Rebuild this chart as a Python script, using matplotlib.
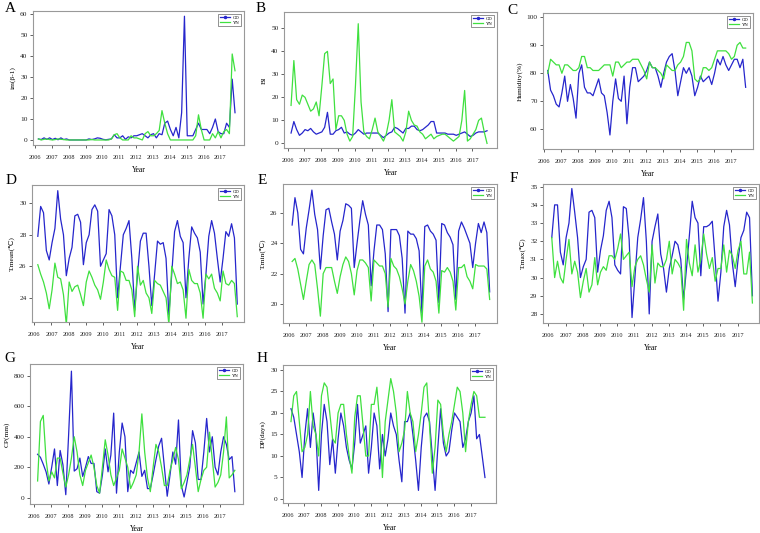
import numpy as np
import matplotlib.pyplot as plt

plt.rcParams['font.family'] = ['Liberation Serif', 'DejaVu Serif']
plt.rcParams['axes.unicode_minus'] = False

# time axis: first sample 2006.2, 6 samples per year, last 2017.87
n_pts = 71
t = 2006.2 + np.arange(n_pts) / 6.0
years = list(range(2006, 2018))

# ---- A: im(β-1) ----
im_gd = [0.5, 0.2, 1.0, 0.3, 1.0,
         0.2, 0.8, 0.1, 1.0, 0.2, 0.5,
         0, 0, 0, 0, 0, 0,
         0, 0.5, 0.2, 0.5, 1.0, 0.8,
         0.3, 0.1, 0.3, 0.5, 2.5, 1.0,
         1.0, 2.0, 0.3, 1.5, 1.0, 2.0,
         2.0, 2.5, 3.0, 2.0, 1.0, 2.5,
         3.0, 1.0, 3.0, 2.5, 8.0, 9.0,
         5.0, 2.0, 6.0, 1.0, 13.0, 59.0,
         2.0, 2.0, 2.0, 5.0, 8.0, 5.0,
         5.0, 5.0, 3.0, 6.0, 10.0, 4.0,
         3.0, 3.0, 8.0, 6.0, 29.0, 13.0]
im_yn = [0.5, 0, 0.3, 0.5, 0.2,
         0, 0.2, 0.5, 0.3, 0.2, 0,
         0, 0, 0, 0, 0, 0,
         0, 0, 0.2, 0, 0, 0,
         0, 0, 0, 0.5, 2.5, 3.0,
         1.0, 0, 0, 0, 2.0, 1.0,
         1.0, 0.5, 0, 3.0, 4.0, 2.0,
         2.0, 3.0, 4.5, 14.0, 8.0, 3.0,
         0, 0, 0, 0, 0, 0,
         0, 0, 0, 2.0, 12.0, 5.0,
         0, 0, 0, 3.0, 1.0, 4.0,
         1.0, 4.0, 5.0, 3.0, 41.0, 33.0]

# ---- B: BI ----
bi_gd = [4.5, 9.5, 6, 3.5, 4.5,
         6, 5.5, 6.5, 5, 4, 4.5,
         5, 7, 13.5, 4, 4, 5.5,
         6, 7, 4.5, 5, 4, 3.5,
         4.5, 6, 5, 4, 4.5, 4.5,
         4.5, 4.5, 4.5, 3.5, 2.5, 3.5,
         4.5, 5, 7, 6.5, 5.5, 4.5,
         6.5, 6.5, 7.5, 7.5, 6, 5.5,
         6, 7, 8, 9.5, 9.5, 4.5,
         4.5, 4.5, 4.5, 4, 4, 4,
         3.5, 4, 4.5, 5, 4, 3,
         3.5, 4.5, 5, 5, 5, 5.5]
bi_yn = [16.5, 36, 19, 17, 21,
         20, 17, 14, 15, 18, 12,
         25, 39, 40, 26, 28, 6,
         12, 12, 10, 4, 1, 3,
         25, 52, 18, 5, 3, 2,
         6, 11, 5, 3, 1, 4,
         10, 19, 5, 4, 3, 1,
         5, 14, 10, 8, 7.5, 5,
         4, 2, 3, 4, 2, 3,
         3.5, 4, 4, 3, 2, 1,
         2, 3, 10, 23, 1, 2,
         4, 6, 10, 11, 5, 0]

# ---- C: Humidity ----
hum_gd = [81, 74, 72, 69, 68,
          73, 79, 70, 76, 71, 64,
          80, 83, 75, 73, 73, 72,
          75, 78, 73, 72, 66, 58,
          70, 78, 71, 70, 79, 62,
          75, 82, 82, 77, 78, 79,
          81, 84, 82, 82, 79, 75,
          80, 84, 86, 87, 81, 72,
          77, 82, 80, 82, 79, 72,
          75, 79, 77, 78, 79, 76,
          80, 85, 83, 86, 83, 81,
          83, 85, 85, 82, 85, 75]
hum_yn = [80, 85, 84, 83, 83,
          80, 83, 83, 82, 81, 81,
          82, 86, 86, 82, 82, 81,
          81, 81, 82, 83, 83, 83,
          79, 84, 84, 82, 83, 84,
          84, 85, 85, 85, 83, 81,
          78, 84, 82, 82, 81, 80,
          78, 83, 82, 81, 81, 83,
          84, 86, 91, 91, 88, 78,
          77, 78, 82, 82, 81, 82,
          85, 88, 88, 88, 88, 87,
          85, 86, 90, 91, 89, 89]

# ---- D: T.mean ----
tmean_gd = [27.9, 29.8, 29.4, 27.0, 26.4,
            27.5, 28.4, 30.8, 29.0, 28.0, 25.4,
            26.5, 27.2, 29.2, 29.3, 28.8, 26.1,
            27.5, 28.0, 29.6, 29.9, 29.5, 26.0,
            26.4, 26.8, 29.6, 29.2, 28.0, 24.0,
            26.0, 28.0, 28.4, 28.9, 26.5, 23.2,
            25.5, 27.6, 28.1, 28.1, 26.0, 23.5,
            25.5, 27.6, 27.4, 27.5, 26.5, 22.9,
            25.5, 28.2, 28.9, 27.9, 27.5, 24.0,
            26.5, 28.5, 28.1, 27.8, 26.9, 23.6,
            25.5, 27.9, 28.9, 28.1, 26.5, 25.0,
            26.5, 28.2, 27.9, 28.7, 27.8, 23.6]
tmean_yn = [26.1, 25.5, 25.0, 24.3, 23.3,
            24.5, 26.2, 25.3, 25.2, 24.2, 22.3,
            25.0, 24.4, 24.7, 24.8, 24.2, 23.5,
            25.0, 25.7, 25.3, 24.8, 24.5, 23.9,
            25.0, 26.4, 25.8, 25.4, 25.3, 23.2,
            25.7, 25.6, 25.1, 25.1, 24.5, 22.8,
            26.0, 24.8, 25.1, 24.3, 24.0, 23.0,
            25.1, 24.9, 24.8, 24.4, 24.0, 22.3,
            26.0, 25.5, 24.9, 25.0, 24.5, 22.7,
            25.8, 25.1, 24.9, 24.9, 24.3, 22.7,
            25.5, 25.2, 25.5, 24.6, 24.3, 23.8,
            25.7, 24.9, 24.8, 25.1, 24.9, 22.8]

# ---- E: T.min ----
tmin_gd = [25.2, 27.0, 26.0, 23.6, 23.3,
           25.0, 26.2, 27.5, 25.9, 24.9, 22.3,
           24.5, 26.2, 26.3, 25.4, 24.6, 22.9,
           24.8, 25.5, 26.6, 26.5, 26.3, 22.4,
           24.0, 25.5, 26.8, 25.9, 25.2, 21.2,
           23.5, 25.2, 25.2, 24.9, 23.3, 19.5,
           24.9, 24.9, 24.9, 24.5, 23.0, 19.4,
           24.8, 24.6, 24.6, 24.3, 23.5, 19.4,
           25.1, 25.2, 24.8, 24.6, 24.2, 20.1,
           25.3, 25.2, 24.7, 24.4, 23.9, 20.3,
           24.8, 25.4, 25.0, 24.5, 24.0, 22.4,
           24.0, 25.3, 24.7, 25.4, 24.7, 20.8]
tmin_yn = [22.8, 23.0, 22.3, 21.3, 20.3,
           21.5, 22.6, 22.9, 22.6, 21.0, 19.2,
           22.0, 22.4, 22.4, 22.4, 21.5, 20.7,
           21.8, 22.6, 23.1, 22.8, 22.0, 20.6,
           22.2, 22.9, 22.9, 22.7, 22.4, 20.2,
           22.9, 22.7, 22.5, 22.5, 22.0, 19.8,
           23.0, 22.5, 22.3, 21.8, 21.0, 20.0,
           21.5, 22.6, 22.2, 21.5, 20.5, 18.8,
           22.5, 22.9, 22.3, 22.1, 21.5, 19.4,
           22.2, 22.1, 22.4, 22.1, 21.5, 19.6,
           22.4, 22.4, 22.6, 21.8, 21.5, 21.0,
           22.6, 22.5, 22.5, 22.5, 22.3, 20.3]

# ---- F: T.max ----
tmax_gd = [32.2, 34.0, 34.0, 31.4, 30.7,
           32.2, 33.0, 34.9, 33.6, 32.2, 30.0,
           30.6, 31.0, 33.6, 33.7, 33.3, 30.3,
           31.5, 32.3, 33.7, 34.2, 33.3, 30.7,
           30.4, 30.2, 33.9, 33.8, 32.1, 27.8,
           30.0, 32.2, 33.2, 34.4, 32.0, 28.0,
           32.0, 32.8, 33.5, 31.3, 30.5, 29.2,
           30.5, 31.2, 32.0, 31.8, 31.0, 28.8,
           30.5, 32.3, 34.2, 33.3, 33.0, 30.1,
           32.8, 32.8, 32.9, 33.1, 31.0, 28.7,
           30.3, 32.8, 33.7, 32.9, 30.8, 29.5,
           31.0, 32.2, 32.6, 33.6, 33.3, 29.0]
tmax_yn = [32.2, 30.0, 30.9, 30.0, 29.7,
           31.0, 32.1, 30.2, 30.9, 30.3, 28.9,
           29.8, 30.5, 29.2, 29.6, 31.1, 29.6,
           30.3, 30.6, 30.4, 31.2, 31.2, 31.0,
           31.6, 32.4, 31.0, 31.2, 31.4, 29.5,
           30.6, 31.0, 31.2, 30.7, 29.9, 29.2,
           31.8, 29.7, 30.8, 30.6, 30.6, 31.0,
           32.0, 30.2, 31.0, 30.8, 30.5, 28.2,
           32.1, 30.8, 30.1, 31.8, 30.3, 31.0,
           32.4, 31.3, 30.5, 31.1, 29.8, 30.5,
           30.5, 31.8, 30.3, 31.5, 31.2, 30.5,
           31.5, 32.0, 30.2, 30.2, 31.4, 28.6]

# ---- G: CP ----
cp_gd = [285, 265, 220, 170, 90,
         200, 320, 80, 310, 215, 20,
         410, 830, 175, 190, 260, 140,
         200, 270, 225, 225, 40, 30,
         150, 320, 170, 280, 555, 30,
         300, 490, 400, 40, 180, 160,
         230, 300, 140, 180, 60, 60,
         150, 250, 340, 390, 200, 10,
         150, 300, 220, 510, 80, 5,
         100, 200, 440, 360, 120, 120,
         300, 520, 300, 400, 200, 150,
         300, 400, 350, 250, 270, 40]
cp_yn = [110, 500, 540, 250, 110,
         170, 130, 260, 260, 160, 70,
         150, 260, 400, 300, 150, 80,
         180, 230, 280, 200, 80, 30,
         200, 380, 280, 150, 80, 130,
         180, 320, 260, 200, 60, 100,
         150, 300, 550, 300, 130, 40,
         200, 350, 300, 200, 80, 80,
         180, 250, 330, 250, 60, 100,
         150, 250, 350, 200, 40, 120,
         180, 200, 430, 250, 70, 100,
         150, 300, 530, 130, 150, 180]

# ---- H: DP ----
dp_gd = [21, 19, 15, 11, 5,
         15, 21, 12, 20, 15, 2,
         15, 22, 18, 8, 14, 6,
         14, 20, 17, 12, 9, 7,
         13, 22, 13, 15, 17, 6,
         12, 20, 17, 7, 15, 10,
         14, 20, 17, 15, 9, 4,
         18, 18, 20, 15, 9, 2,
         12, 19, 20, 18, 10, 2,
         12, 21, 13, 10, 11, 16,
         20, 19, 18, 12, 14, 18,
         20, 24, 14, 15, 10, 5]
dp_yn = [18, 24, 25, 18, 11,
         12, 15, 25, 17, 15, 10,
         24, 27, 26, 20, 14, 13,
         20, 22, 22, 15, 10, 6,
         19, 24, 24, 17, 10, 10,
         22, 22, 26, 18, 5, 18,
         23, 28, 25, 20, 11, 13,
         16, 25, 20, 18, 11, 15,
         20, 26, 27, 17, 6, 12,
         23, 22, 15, 11, 15, 18,
         22, 26, 25, 20, 11, 18,
         22, 25, 24, 19, 19, 19]

GD_COLOR = '#2626cc'
YN_COLOR = '#3fe03f'

W, H = 760, 533
fig = plt.figure(figsize=(W / 100, H / 100), dpi=100)


def make_axes(left, right, top, bottom):
    # pixel box -> figure fraction
    return fig.add_axes([left / W, 1 - bottom / H, (right - left) / W, (bottom - top) / H])


def panel(box, gd, yn, xlim, ylim, yticks, ylabel, letter, lx, ly):
    ax = make_axes(*box)
    ax.plot(t, gd, color=GD_COLOR, lw=0.9, label='GD')
    ax.plot(t, yn, color=YN_COLOR, lw=0.9, label='YN')
    ax.set_xlim(xlim)
    ax.set_ylim(ylim)
    ax.set_xticks(years)
    ax.set_xticklabels([str(y) for y in years], fontsize=4.5)
    ax.set_yticks(yticks)
    ax.tick_params(axis='y', labelsize=5.3, length=2, width=0.5, pad=2, colors='#222222')
    ax.tick_params(axis='x', length=2, width=0.5, pad=5, colors='#222222')
    ax.set_xlabel('Year', fontsize=5.5, labelpad=4.5)
    ax.set_ylabel(ylabel, fontsize=5.3, labelpad=3)
    for s in ax.spines.values():
        s.set_color('#999999')
        s.set_linewidth(0.8)
    h_gd = plt.Line2D([], [], color=GD_COLOR, lw=0.9, marker='o', markersize=1.5)
    h_yn = plt.Line2D([], [], color=YN_COLOR, lw=0.9)
    leg = ax.legend([h_gd, h_yn], ['GD', 'YN'], loc='upper right', fontsize=3.4,
                    frameon=True, fancybox=False, edgecolor='#666666', framealpha=1,
                    handlelength=2.3, borderpad=0.35, labelspacing=0.15, handletextpad=0.5,
                    borderaxespad=0.6)
    leg.get_frame().set_linewidth(0.5)
    fig.text(lx / W, 1 - ly / H, letter, fontsize=11, ha='center', va='center')
    return ax


panel((33, 244, 11, 145), im_gd, im_yn, (2005.88, 2018.4), (-2.4, 61.5),
      range(0, 61, 10), 'im(β-1)', 'A', 10, 9)
panel((284, 497, 12, 148), bi_gd, bi_yn, (2005.78, 2018.46), (-2.0, 57.1),
      range(0, 51, 10), 'BI', 'B', 261, 8)
panel((543, 753, 13, 149), hum_gd, hum_yn, (2005.92, 2018.3), (53.0, 101.5),
      range(60, 101, 10), 'Humidity(%)', 'C', 512, 10)
panel((32, 244, 185, 322), tmean_gd, tmean_yn, (2005.86, 2018.26), (22.46, 31.16),
      range(24, 31, 2), 'T.mean(℃)', 'D', 11, 180)
panel((283, 497, 184, 323), tmin_gd, tmin_yn, (2005.66, 2018.3), (18.75, 27.9),
      range(20, 27, 2), 'T.min(℃)', 'E', 262, 180)
panel((543, 759, 184, 323), tmax_gd, tmax_yn, (2005.69, 2018.25), (27.5, 35.15),
      range(28, 36, 1), 'T.max(℃)', 'F', 514, 178)
panel((30, 243, 364, 504), cp_gd, cp_yn, (2005.75, 2018.35), (-41, 877),
      range(0, 801, 200), 'CP(mm)', 'G', 10, 358)
panel((283, 496, 365, 503), dp_gd, dp_yn, (2005.72, 2018.53), (-0.93, 31.16),
      range(0, 31, 5), 'DP(days)', 'H', 262, 358)

fig.savefig('out.png', dpi=100)
